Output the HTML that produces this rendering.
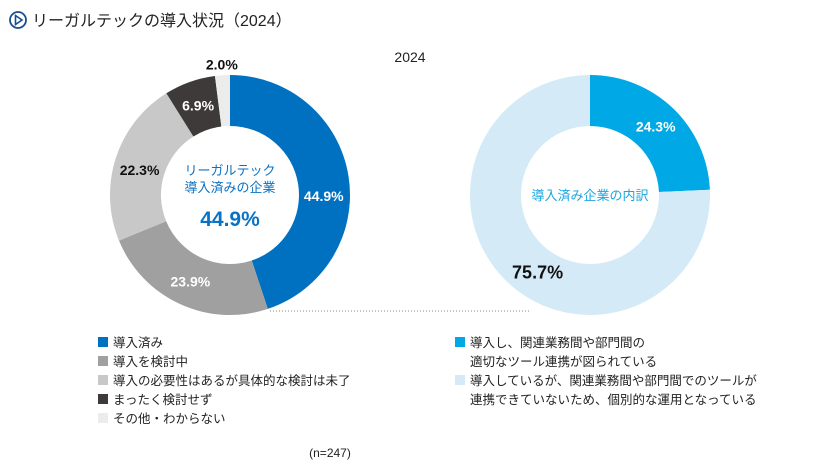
<!DOCTYPE html>
<html><head><meta charset="utf-8"><style>
body{margin:0;width:820px;height:470px;background:#fff;font-family:"Liberation Sans","Noto Sans CJK JP",sans-serif;overflow:hidden}
svg text{font-family:"Liberation Sans","Noto Sans CJK JP",sans-serif}
</style></head><body>
<svg id="c" width="820" height="470">
<g>
<circle cx="18" cy="20" r="8" fill="none" stroke="#1a4d8f" stroke-width="1.8"/>
<path d="M15.5 15.5 L22 20 L15.5 24.5 Z" fill="none" stroke="#1a4d8f" stroke-width="1.6"/>
<text x="32" y="26" font-size="16" fill="#222">リーガルテックの導入状況（2024）</text>
</g>
<text x="410" y="62" font-size="14" text-anchor="middle" fill="#222">2024</text>
<line x1="270" y1="311" x2="530" y2="311" stroke="#888" stroke-width="1" stroke-dasharray="1,2"/>
<g id="left"></g><g id="right"></g>
<text x="230" y="175" font-size="13" text-anchor="middle" fill="#0a72c4">リーガルテック</text>
<text x="230" y="192" font-size="13" text-anchor="middle" fill="#0a72c4">導入済みの企業</text>
<text x="230" y="226" font-size="21" font-weight="bold" text-anchor="middle" fill="#0a72c4">44.9%</text>
<text x="590" y="200" font-size="13" text-anchor="middle" fill="#1aa7e0">導入済み企業の内訳</text>
<g id="legend"></g>
<text x="330" y="457" font-size="12" text-anchor="middle" fill="#222">(n=247)</text>
</svg>
<script>
const leftCats=["導入済み","導入を検討中","導入の必要性はあるが具体的な検討は未了","まったく検討せず","その他・わからない"];
const leftVals=[44.9,23.9,22.3,6.9,2.0];
const leftColors=["#0071c1","#a0a0a0","#c8c8c8","#3d3a39","#ececec"];
const leftTextColors=["#fff","#fff","#111","#fff","#111"];
const rightCats=["導入し、関連業務間や部門間の|適切なツール連携が図られている","導入しているが、関連業務間や部門間でのツールが|連携できていないため、個別的な運用となっている"];
const rightVals=[24.3,75.7];
const rightColors=["#00a9e6","#d4eaf7"];
const rightTextColors=["#fff","#111"];
const NS="http://www.w3.org/2000/svg";
function donut(g,cx,cy,R,r,vals,cols,tcols,labR,sizes,offs,prefix){
  const tot=vals.reduce((a,b)=>a+b,0);let a0=0;
  vals.forEach((v,i)=>{
    const a1=a0+v/tot*2*Math.PI;
    const p=(a,rad)=>[cx+rad*Math.sin(a),cy-rad*Math.cos(a)];
    const [x0,y0]=p(a0,R),[x1,y1]=p(a1,R),[x2,y2]=p(a1,r),[x3,y3]=p(a0,r);
    const lg=(a1-a0)>Math.PI?1:0;
    const path=document.createElementNS(NS,"path");
    path.setAttribute("d",`M${x0} ${y0}A${R} ${R} 0 ${lg} 1 ${x1} ${y1}L${x2} ${y2}A${r} ${r} 0 ${lg} 0 ${x3} ${y3}Z`);
    path.setAttribute("fill",cols[i]);
    
    
    g.appendChild(path);
    const m=(a0+a1)/2;const [lx,ly]=p(m,labR[i]);
    const t=document.createElementNS(NS,"text");
    t.setAttribute("x",lx+offs[i][0]);t.setAttribute("y",ly+offs[i][1]+5);
    t.setAttribute("text-anchor","middle");t.setAttribute("font-size",sizes[i]);
    t.setAttribute("font-weight","bold");t.setAttribute("fill",tcols[i]);
    t.textContent=v.toFixed(1)+"%";
    
    
    g.appendChild(t);
    a0=a1;
  });
}
donut(document.getElementById("left"),230,195,120,69,leftVals,leftColors,leftTextColors,[95,95,95,95,130],[14,14,14,14,14],[[0,16],[0,0],[0,4],[0,0],[0,-1]],"left");
donut(document.getElementById("right"),590,195,120,69,rightVals,rightColors,rightTextColors,[95,125],[14,18],[[0,0],[34,-12]],"right");
const lg=document.getElementById("legend");
function item(x,y,col,lines,name){
  const s=document.createElementNS(NS,"rect");
  s.setAttribute("x",x);s.setAttribute("y",y-9);s.setAttribute("width",10);s.setAttribute("height",10);s.setAttribute("fill",col);
  
  
  lg.appendChild(s);
  lines.forEach((l,k)=>{
    const t=document.createElementNS(NS,"text");
    t.setAttribute("x",x+15);t.setAttribute("y",y+1+k*19);t.setAttribute("font-size",12.5);t.setAttribute("fill","#222");
    t.textContent=l;
    
    
    lg.appendChild(t);
  });
}
leftCats.forEach((c,i)=>item(98,346+i*19,leftColors[i],[c],'legend-left-'+(i+1)));
rightCats.forEach((c,i)=>item(455,346+i*38,rightColors[i],c.split("|"),'legend-right-'+(i+1)));
</script>
</body></html>
